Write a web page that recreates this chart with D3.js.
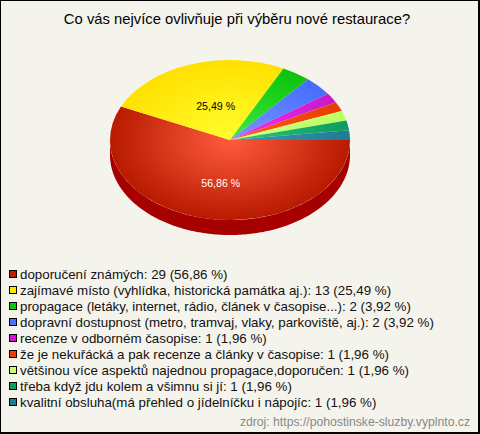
<!DOCTYPE html>
<html><head><meta charset="utf-8">
<script src="https://cdn.jsdelivr.net/npm/d3@7"></script>
<style>html,body{margin:0;padding:0;background:#f5f4ec}svg{display:block}text{font-family:"Liberation Sans",Arial,sans-serif}</style>
</head><body><svg id="c" width="480" height="434"></svg>
<script>
const titleText = "Co vás nejvíce ovlivňuje při výběru nové restaurace?";
const sourceText = "zdroj: https://pohostinske-sluzby.vyplnto.cz";
const categories = [
 "doporučení známých","zajímavé místo (vyhlídka, historická památka aj.)",
 "propagace (letáky, internet, rádio, článek v časopise...)",
 "dopravní dostupnost (metro, tramvaj, vlaky, parkoviště, aj.)",
 "recenze v odborném časopise","že je nekuřácká a pak recenze a články v časopise",
 "většinou více aspektů najednou propagace,doporučen","třeba když jdu kolem a všimnu si jí",
 "kvalitní obsluha(má přehled o jídelníčku i nápojíc"];
const counts = [29,13,2,2,1,1,1,1,1];
const percents = ["56,86","25,49","3,92","3,92","1,96","1,96","1,96","1,96","1,96"];
const innerColors = ["#ff5c3c","#ffff2e","#3cec3c","#7498ff","#f034f0","#ff5c1c","#d2ff80","#30c680","#3e9ab4"];
const outerColors = ["#b81a00","#ffe000","#0cc20c","#466cff","#c818c8","#e83c00","#baff62","#0c9c5c","#1c7c94"];
const swatchColors = ["#c01c00","#ffe800","#0cc80c","#4a70ff","#cc18cc","#e84000","#c4ff70","#0c9c5c","#1c7c94"];
const sideColor = "#a60000";
const inlineLabels = [{i:0,fill:"#fff"},{i:1,fill:"#000"}];

const cx=230, cy=140, rx=120, ry=80, depth=15;
const svg=d3.select("#c");
svg.append("rect").attr("width",480).attr("height",434).attr("fill","#000");
svg.append("rect").attr("x",1).attr("y",1).attr("width",477).attr("height",431).attr("fill","#f5f4ec");
svg.append("text").attr("x",237).attr("y",24).attr("text-anchor","middle").attr("font-size",14.8).attr("fill","#000").text(titleText);

const defs=svg.append("defs");
categories.forEach((c,i)=>{
  const g=defs.append("radialGradient").attr("id","g"+i).attr("gradientUnits","userSpaceOnUse")
    .attr("cx",0).attr("cy",0).attr("r",rx);
  g.append("stop").attr("offset","0").attr("stop-color",innerColors[i]);
  g.append("stop").attr("offset","1").attr("stop-color",outerColors[i]);
});

// clockwise from 3 o'clock
const pie=d3.pie().sort(null).startAngle(Math.PI/2).endAngle(Math.PI/2+2*Math.PI)(counts);
const arc=d3.arc().innerRadius(0).outerRadius(rx);
const xS=t=>cx+rx*Math.sin(t), yS=t=>cy-ry*Math.cos(t);

// extruded side: front half of rim
const thetas=d3.range(Math.PI/2,Math.PI*1.5+0.001,Math.PI/180);
svg.append("path").attr("fill",sideColor)
  .attr("d",d3.area().x(xS).y0(yS).y1(t=>yS(t)+depth)(thetas));

const topFace=svg.append("g").attr("transform",`translate(${cx},${cy}) scale(1,${ry/rx})`);
topFace.selectAll("path").data(pie).join("path")
  .attr("d",arc).attr("fill",(d,i)=>`url(#g${i})`);

inlineLabels.forEach(l=>{
  const d=pie[l.i], m=(d.startAngle+d.endAngle)/2;
  svg.append("text").attr("x",cx+rx*0.36*Math.sin(m)).attr("y",cy-ry*0.5*Math.cos(m)+7.5)
    .attr("text-anchor","middle").attr("font-size",10.6).attr("fill",l.fill).text(percents[l.i]+" %");
});

const y=d3.scaleBand().domain(d3.range(categories.length)).range([266,410]);
const rows=svg.selectAll("g.row").data(categories).join("g").attr("class","row")
  .attr("transform",(d,i)=>`translate(0,${y(i)})`);
rows.append("rect").attr("x",9.5).attr("y",4.5).attr("width",7).attr("height",7)
  .attr("fill",(d,i)=>swatchColors[i]).attr("stroke","#000");
rows.append("text").attr("x",20).attr("y",13).attr("font-size",13.33).attr("fill","#111")
  .text((d,i)=>`${d}: ${counts[i]} (${percents[i]} %)`);
svg.append("text").attr("x",470).attr("y",426).attr("text-anchor","end").attr("font-size",12.2).attr("fill","#888").text(sourceText);
</script></body></html>
